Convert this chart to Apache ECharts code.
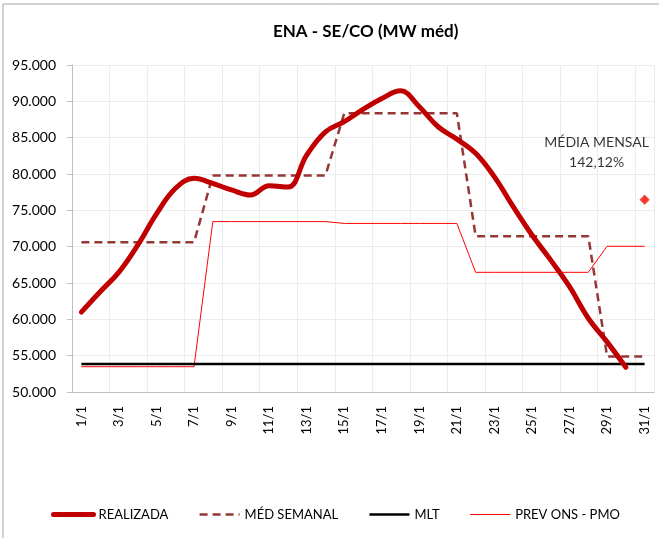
<!DOCTYPE html>
<html>
<head>
<meta charset="utf-8">
<script src="https://cdn.jsdelivr.net/npm/echarts@6/dist/echarts.min.js"></script>
<style>
  html, body { margin: 0; padding: 0; background: #fff; }
  #chart { width: 659px; height: 538px; }
</style>
</head>
<body>
<div id="chart"></div>
<script>
// days of January
const dias = ['1/1', '2/1', '3/1', '4/1', '5/1', '6/1', '7/1', '8/1', '9/1', '10/1',
  '11/1', '12/1', '13/1', '14/1', '15/1', '16/1', '17/1', '18/1', '19/1', '20/1',
  '21/1', '22/1', '23/1', '24/1', '25/1', '26/1', '27/1', '28/1', '29/1', '30/1', '31/1'];

const realizada = [61000, 63800, 66500, 70200, 74500, 78000, 79400, 78700, 77800, 77100,
  78400, 78200, 82600, 85800, 87200, 88900, 90400, 91450, 89250, 86500,
  84800, 82850, 79600, 75500, 71600, 68150, 64500, 60150, 56900, 53400, null];

const medSemanal = [70600, 70600, 70600, 70600, 70600, 70600, 70600,
  79800, 79800, 79800, 79800, 79800, 79800, 79800,
  88350, 88350, 88350, 88350, 88350, 88350, 88350,
  71450, 71450, 71450, 71450, 71450, 71450, 71450,
  54900, 54900, 54900];

const mlt = [53850, 53850, 53850, 53850, 53850, 53850, 53850, 53850, 53850, 53850,
  53850, 53850, 53850, 53850, 53850, 53850, 53850, 53850, 53850, 53850,
  53850, 53850, 53850, 53850, 53850, 53850, 53850, 53850, 53850, 53850, 53850];

const prevOns = [53480, 53480, 53480, 53480, 53480, 53480, 53480,
  73450, 73450, 73450, 73450, 73450, 73450, 73450,
  73200, 73200, 73200, 73200, 73200, 73200, 73200,
  66470, 66470, 66470, 66470, 66470, 66470, 66470,
  70050, 70050, 70050];

const mediaMensal = [['31/1', 76450]];
const mediaMensalTexto = 'MÉDIA MENSAL\n142,12%';

const font = 'Lato, "Open Sans", sans-serif';

const chart = echarts.init(document.getElementById('chart'));

chart.setOption({
  animation: false,
  textStyle: { fontFamily: font },
  title: {
    text: 'ENA - SE/CO (MW méd)',
    left: 268,
    top: 18,
    textStyle: { fontFamily: font, fontSize: 17, fontWeight: 'bold', color: '#000' }
  },
  graphic: [{
    type: 'rect',
    shape: { x: 3, y: 4, width: 700, height: 600 },
    style: { fill: 'none', stroke: '#a6a6a6', lineWidth: 1 },
    silent: true
  }],
  legend: {
    left: 46,
    top: 503,
    itemWidth: 40,
    itemHeight: 10,
    itemGap: 30,
    itemStyle: { opacity: 0 },
    lineStyle: { width: 'inherit' },
    textStyle: { fontFamily: font, fontSize: 13, color: '#000' },
    data: ['REALIZADA', 'MÉD SEMANAL', 'MLT', 'PREV ONS - PMO']
  },
  grid: { left: 72, right: 5, top: 65, bottom: 146 },
  xAxis: {
    type: 'category',
    data: dias,
    boundaryGap: true,
    axisLine: { lineStyle: { color: '#bfbfbf', width: 1 } },
    axisTick: { show: false, interval: 1 },
    axisLabel: { interval: 1, rotate: 90, margin: 14, fontSize: 13, color: '#000', fontFamily: font },
    splitLine: { show: true, interval: 1, lineStyle: { color: '#ececec', width: 1 } }
  },
  yAxis: {
    type: 'value',
    min: 50000,
    max: 95000,
    interval: 5000,
    axisLine: { show: true, lineStyle: { color: '#bfbfbf', width: 1 } },
    axisTick: { show: true, length: 5, lineStyle: { color: '#bfbfbf' } },
    axisLabel: {
      margin: 16,
      fontSize: 14,
      color: '#000',
      fontFamily: font,
      formatter: v => (v / 1000).toFixed(3)
    },
    splitLine: { lineStyle: { color: '#ececec', width: 1 } }
  },
  series: [
    {
      name: 'REALIZADA',
      type: 'line',
      data: realizada,
      smooth: 0.4,
      symbol: 'none',
      z: 5,
      lineStyle: { color: '#c00000', width: 5, cap: 'round' },
      itemStyle: { color: '#c00000' }
    },
    {
      name: 'MÉD SEMANAL',
      type: 'line',
      data: medSemanal,
      symbol: 'none',
      z: 4,
      lineStyle: { color: '#953735', width: 2.5, type: [8, 5] },
      itemStyle: { color: '#953735' }
    },
    {
      name: 'MLT',
      type: 'line',
      data: mlt,
      symbol: 'none',
      z: 3,
      lineStyle: { color: '#000', width: 2.5 },
      itemStyle: { color: '#000' }
    },
    {
      name: 'PREV ONS - PMO',
      type: 'line',
      data: prevOns,
      symbol: 'none',
      z: 2,
      lineStyle: { color: '#ff0000', width: 1 },
      itemStyle: { color: '#ff0000' }
    },
    {
      name: 'MÉDIA MENSAL',
      type: 'scatter',
      data: mediaMensal,
      symbol: 'diamond',
      symbolSize: 10,
      z: 6,
      itemStyle: { color: '#ff0000', borderColor: '#9bbb59', borderWidth: 0.6 },
      label: {
        show: true,
        position: 'top',
        offset: [-48, -17],
        align: 'center',
        formatter: mediaMensalTexto,
        fontFamily: font,
        fontSize: 14,
        lineHeight: 20,
        color: '#000'
      }
    }
  ]
});
</script>
</body>
</html>
